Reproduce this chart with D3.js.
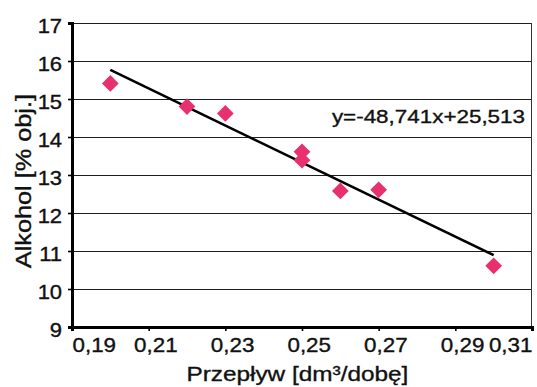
<!DOCTYPE html>
<html>
<head>
<meta charset="utf-8">
<script src="https://cdn.jsdelivr.net/npm/d3@7"></script>
<style>
  html,body{margin:0;padding:0;background:#fff;}
  svg{display:block;font-family:"Liberation Sans",Arial,sans-serif;}
  .lbl{fill:#111;stroke:#111;stroke-width:0.35;}
</style>
</head>
<body>
<svg id="chart" width="537" height="387"></svg>
<script>
/* data */
const flowX   = [0.200, 0.220, 0.230, 0.250, 0.250, 0.260, 0.270, 0.300];
const alcoY   = [15.41, 14.80, 14.62, 13.61, 13.39, 12.58, 12.61, 10.61];
const xTicks  = [0.19, 0.21, 0.23, 0.25, 0.27, 0.29, 0.31];
const yTicks  = [9, 10, 11, 12, 13, 14, 15, 16, 17];
const slope = -48.741, intercept = 25.513;
const eqLabel = "y=-48,741x+25,513";

const W = 537, H = 387;
const m = {top:23, right:5, bottom:60, left:72};
const iw = W - m.left - m.right, ih = H - m.top - m.bottom;

const svg = d3.select("#chart");
const g = svg.append("g").attr("transform", `translate(${m.left},${m.top})`);

const x = d3.scaleLinear().domain([0.19, 0.31]).range([0, iw]);
const y = d3.scaleLinear().domain([9, 17]).range([ih, 0]);
const comma = v => String(v).replace(".", ",");

/* gridlines */
g.append("g").selectAll("line").data(yTicks.filter(t => t > 9)).join("line")
  .attr("x1", 0).attr("x2", iw)
  .attr("y1", d => y(d) + 0.5).attr("y2", d => y(d) + 0.5)
  .attr("stroke", "#1e1e1e").attr("stroke-width", 1.4)
  .attr("shape-rendering", "crispEdges");

/* right frame */
g.append("line").attr("x1", iw - 0.5).attr("x2", iw - 0.5).attr("y1", 0).attr("y2", ih)
  .attr("stroke", "#333").attr("stroke-width", 1).attr("shape-rendering", "crispEdges");

/* axes */
const yAxis = g.append("g").call(d3.axisLeft(y).tickValues(yTicks).tickSize(4).tickPadding(5).tickFormat(d => d));
const xAxis = g.append("g").attr("transform", `translate(0,${ih})`)
  .call(d3.axisBottom(x).tickValues(xTicks).tickSize(4).tickPadding(7).tickFormat(comma));
[yAxis, xAxis].forEach(a => {
  a.select(".domain").attr("stroke", "#000").attr("stroke-width", 3);
  a.selectAll(".tick line").attr("stroke", "#000").attr("stroke-width", 1.6);
  a.selectAll("text").attr("font-size", 20).attr("class", "lbl")
    .attr("font-family", "Liberation Sans, Arial, sans-serif");
});
yAxis.selectAll(".tick text").attr("transform", "scale(1.1,1)").attr("dy", "0.45em");
xAxis.selectAll(".tick text")
  .attr("transform", "scale(1.12,1)")
  .attr("text-anchor", (d, i) => i === 0 ? "start" : i === xTicks.length - 1 ? "end" : "middle")
  .attr("dx", (d, i) => i === 0 || i === xTicks.length - 1 ? 0 : 6);

/* trend line over the data range */
const tx = d3.extent(flowX);
g.append("path")
  .datum(tx.map(v => [v, slope * v + intercept]))
  .attr("d", d3.line().x(d => x(d[0])).y(d => y(d[1])))
  .attr("fill", "none").attr("stroke", "#000").attr("stroke-width", 2.6);

/* diamond markers */
const pts = flowX.map((v, i) => [v, alcoY[i]]);
g.append("g").selectAll("path").data(pts).join("path")
  .attr("d", d3.symbol().type(d3.symbolSquare).size(140))
  .attr("transform", d => `translate(${x(d[0])},${y(d[1])}) rotate(45)`)
  .attr("fill", "#e8306e");

/* equation */
g.append("text").attr("class", "lbl")
  .attr("transform", `translate(${iw - 7},${y(14.36)}) scale(1.18,1)`)
  .attr("text-anchor", "end").attr("font-size", 19)
  .text(eqLabel);

/* axis titles */
svg.append("text").attr("class", "lbl")
  .attr("transform", `translate(${m.left + iw * 0.49},381) scale(1.16,1)`)
  .attr("text-anchor", "middle").attr("font-size", 21)
  .text("Przepływ [dm³/dobę]");
svg.append("text").attr("class", "lbl")
  .attr("transform", `translate(31,${m.top + ih * 0.52}) rotate(-90) scale(1.15,1)`)
  .attr("text-anchor", "middle").attr("font-size", 22)
  .text("Alkohol [% obj.]");
</script>
</body>
</html>
